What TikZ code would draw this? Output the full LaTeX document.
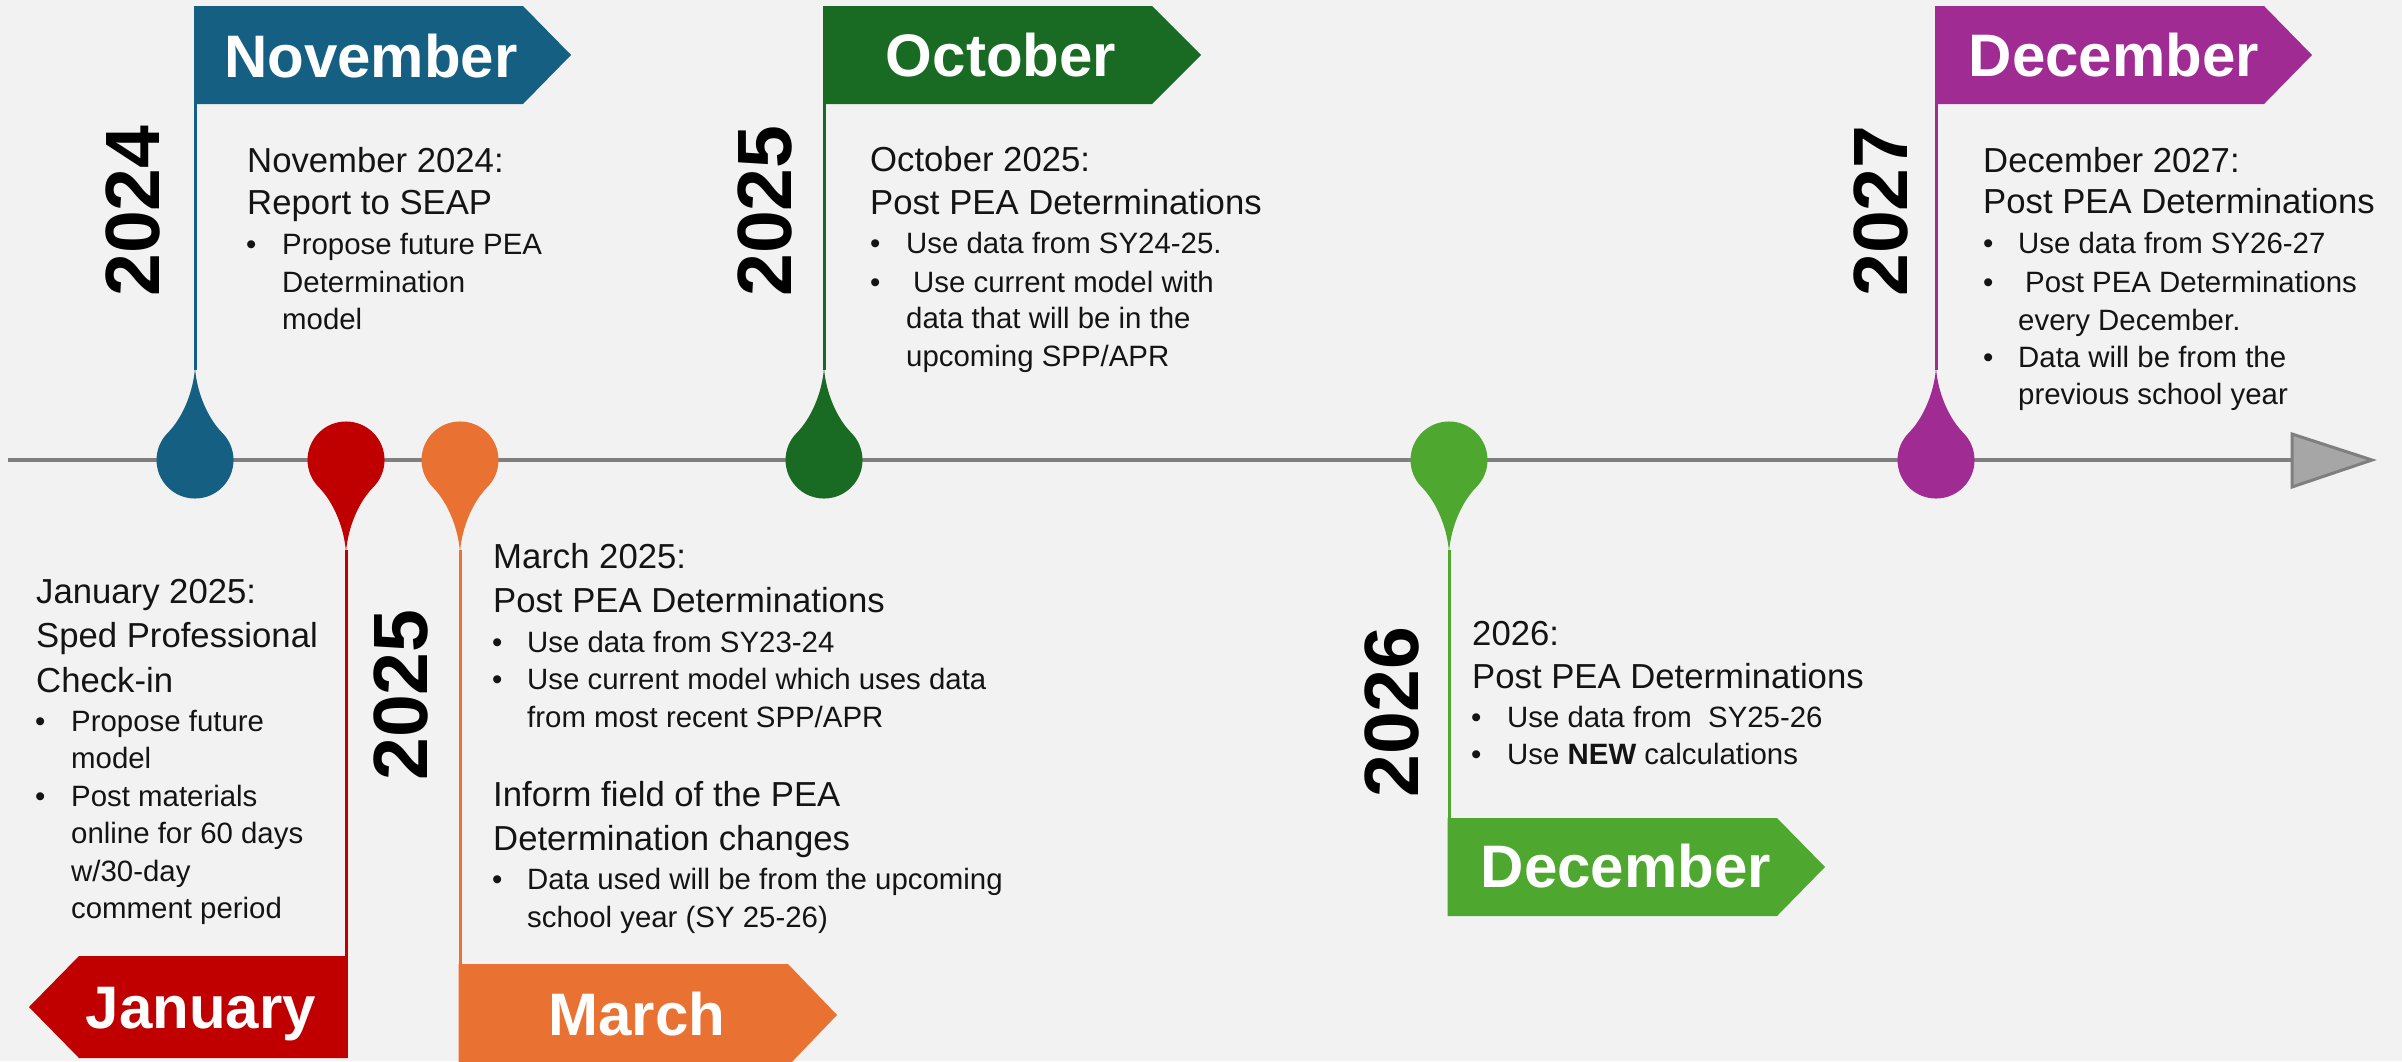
\documentclass[tikz,border=0pt]{standalone}
\usepackage{fontspec}
\setmainfont{Liberation Sans}
\definecolor{bg}{HTML}{F2F2F2}
\definecolor{cnov}{HTML}{156082}
\definecolor{coct}{HTML}{196B24}
\definecolor{cdecb}{HTML}{A02B93}
\definecolor{cjan}{HTML}{C00000}
\definecolor{cmar}{HTML}{E97132}
\definecolor{cdeca}{HTML}{4EA72E}
\definecolor{axisc}{HTML}{7F7F7F}
\definecolor{arrowc}{HTML}{A6A6A6}
\definecolor{txt}{HTML}{141414}
\newcommand{\tldropup}[3]{%
  \fill[#3] (#1,#2-92) .. controls (#1-2,#2-66) and (#1-13.5,#2-41) .. (#1-27.2,#2-27.2)
    arc[start angle=225,end angle=-45,radius=38.5]
    .. controls (#1+13.5,#2-41) and (#1+2,#2-66) .. cycle;}
\newcommand{\tldropdown}[3]{%
  \fill[#3] (#1,#2+92) .. controls (#1-2,#2+66) and (#1-13.5,#2+41) .. (#1-27.2,#2+27.2)
    arc[start angle=135,end angle=405,radius=38.5]
    .. controls (#1+13.5,#2+41) and (#1+2,#2+66) .. cycle;}
\tikzset{
  hd/.style={anchor=base west, inner sep=0pt, text=txt, font=\fontsize{34.7}{40}\selectfont},
  bt/.style={anchor=base west, inner sep=0pt, text=txt, font=\fontsize{29.4}{36}\selectfont},
  bul/.style={anchor=base west, inner sep=0pt, text=txt, font=\fontsize{29.4}{36}\selectfont},
  month/.style={anchor=base, inner sep=0pt, text=white, font=\bfseries\fontsize{60}{70}\selectfont},
  yr/.style={rotate=90, inner sep=0pt, text=black, font=\bfseries\fontsize{77}{80}\selectfont},
  stem/.style={line width=3pt},
  axisline/.style={draw=axisc, line width=4pt},
}
\begin{document}
\begin{tikzpicture}[x=1pt,y=-1pt]
\fill[bg] (0,0) rectangle (2402,1061);
\useasboundingbox (0,0) rectangle (2402,1061);

% axis
\coordinate (axL) at (8,460);
\coordinate (axR) at (2292,460);
\draw[axisline] (axL) -- (axR);
\filldraw[fill=arrowc, draw=axisc, line width=3pt, line join=miter] (2292,434) -- (2372,460) -- (2292,487) -- cycle;

% ---------- November 2024 ----------
\coordinate (novTail) at (195,370);
\coordinate (novTop) at (195,6);
\draw[stem, cnov] (novTail) -- (novTop);
\fill[cnov] (195,6) -- (523,6) -- (571,55) -- (523,104) -- (195,104) -- cycle;
\tldropup{195}{460}{cnov}
\node[month] (mNov) at (371,77) {November};
\node[yr] (y2024) at (133,211) {2024};
\node[hd] (nov1) at (247,172) {November 2024:};
\node[hd] (nov2) at (247,214) {Report to SEAP};
\node[bul] (novb1) at (246,254) {\textbullet};
\node[bt] (nov3) at (282,254) {Propose future PEA};
\node[bt] (nov4) at (282,292) {Determination};
\node[bt] (nov5) at (282,329) {model};

% ---------- January 2025 ----------
\coordinate (janTail) at (346,550);
\coordinate (janBot) at (346,1058);
\draw[stem, cjan] (janTail) -- (janBot);
\fill[cjan] (347.5,956) -- (79,956) -- (29,1007) -- (79,1058) -- (347.5,1058) -- cycle;
\tldropdown{346}{460}{cjan}
\node[month] (mJan) at (201,1028) {January};
\node[hd] (jan1) at (36,603) {January 2025:};
\node[hd] (jan2) at (36,647) {Sped Professional};
\node[hd] (jan3) at (36,692) {Check-in};
\node[bul] (janb1) at (35,731) {\textbullet};
\node[bt] (jan4) at (71,731) {Propose future};
\node[bt] (jan5) at (71,768) {model};
\node[bul] (janb2) at (35,806) {\textbullet};
\node[bt] (jan6) at (71,806) {Post materials};
\node[bt] (jan7) at (71,843) {online for 60 days};
\node[bt] (jan8) at (71,881) {w/30-day};
\node[bt] (jan9) at (71,918) {comment period};

% ---------- March 2025 ----------
\coordinate (marTail) at (460,550);
\coordinate (marBot) at (460,1061);
\draw[stem, cmar] (marTail) -- (marBot);
\fill[cmar] (458.5,964) -- (788,964) -- (837,1015) -- (788,1066) -- (458.5,1066) -- cycle;
\tldropdown{460}{460}{cmar}
\node[month] (mMar) at (637,1035) {March};
\node[yr] (y2025b) at (401,695) {2025};
\node[hd] (mar1) at (493,568) {March 2025:};
\node[hd] (mar2) at (493,612) {Post PEA Determinations};
\node[bul] (marb1) at (492,652) {\textbullet};
\node[bt] (mar3) at (527,652) {Use data from SY23-24};
\node[bul] (marb2) at (492,689) {\textbullet};
\node[bt] (mar4) at (527,689) {Use current model which uses data};
\node[bt] (mar5) at (527,727) {from most recent SPP/APR};
\node[hd] (mar6) at (493,806) {Inform field of the PEA};
\node[hd] (mar7) at (493,850) {Determination changes};
\node[bul] (marb3) at (492,889) {\textbullet};
\node[bt] (mar8) at (527,889) {Data used will be from the upcoming};
\node[bt] (mar9) at (527,927) {school year (SY 25-26)};

% ---------- October 2025 ----------
\coordinate (octTail) at (824,370);
\coordinate (octTop) at (824,6);
\draw[stem, coct] (octTail) -- (octTop);
\fill[coct] (824,6) -- (1152,6) -- (1201,55) -- (1152,104) -- (824,104) -- cycle;
\tldropup{824}{460}{coct}
\node[month] (mOct) at (1001,76) {October};
\node[yr] (y2025a) at (765,211) {2025};
\node[hd] (oct1) at (870,171) {October 2025:};
\node[hd] (oct2) at (870,214) {Post PEA Determinations};
\node[bul] (octb1) at (870,253) {\textbullet};
\node[bt] (oct3) at (906,253) {Use data from SY24-25.};
\node[bul] (octb2) at (870,292) {\textbullet};
\node[bt] (oct4) at (913,292) {Use current model with};
\node[bt] (oct5) at (906,328) {data that will be in the};
\node[bt] (oct6) at (906,366) {upcoming SPP/APR};

% ---------- December 2026 ----------
\coordinate (decaTail) at (1449,550);
\coordinate (decaBot) at (1449,916);
\draw[stem, cdeca] (decaTail) -- (decaBot);
\fill[cdeca] (1447.5,818) -- (1777,818) -- (1825,867) -- (1777,916) -- (1447.5,916) -- cycle;
\tldropdown{1449}{460}{cdeca}
\node[month] (mDeca) at (1626,887) {December};
\node[yr] (y2026) at (1392,712) {2026};
\node[hd] (deca1) at (1472,645) {2026:};
\node[hd] (deca2) at (1472,688) {Post PEA Determinations};
\node[bul] (decab1) at (1471,727) {\textbullet};
\node[bt] (deca3) at (1507,727) {Use data from\ \ SY25-26};
\node[bul] (decab2) at (1471,764) {\textbullet};
\node[bt] (deca4) at (1507,764) {Use \textbf{NEW} calculations};

% ---------- December 2027 ----------
\coordinate (decbTail) at (1936,370);
\coordinate (decbTop) at (1936,6);
\draw[stem, cdecb] (decbTail) -- (decbTop);
\fill[cdecb] (1936,6) -- (2264,6) -- (2312,55) -- (2264,104) -- (1936,104) -- cycle;
\tldropup{1936}{460}{cdecb}
\node[month] (mDecb) at (2114,76) {December};
\node[yr] (y2027) at (1881,211) {2027};
\node[hd] (decb1) at (1983,172) {December 2027:};
\node[hd] (decb2) at (1983,213) {Post PEA Determinations};
\node[bul] (decbb1) at (1983,253) {\textbullet};
\node[bt] (decb3) at (2018,253) {Use data from SY26-27};
\node[bul] (decbb2) at (1983,292) {\textbullet};
\node[bt] (decb4) at (2025,292) {Post PEA Determinations};
\node[bt] (decb5) at (2018,330) {every December.};
\node[bul] (decbb3) at (1983,367) {\textbullet};
\node[bt] (decb6) at (2018,367) {Data will be from the};
\node[bt] (decb7) at (2018,404) {previous school year};
\end{tikzpicture}
\end{document}
